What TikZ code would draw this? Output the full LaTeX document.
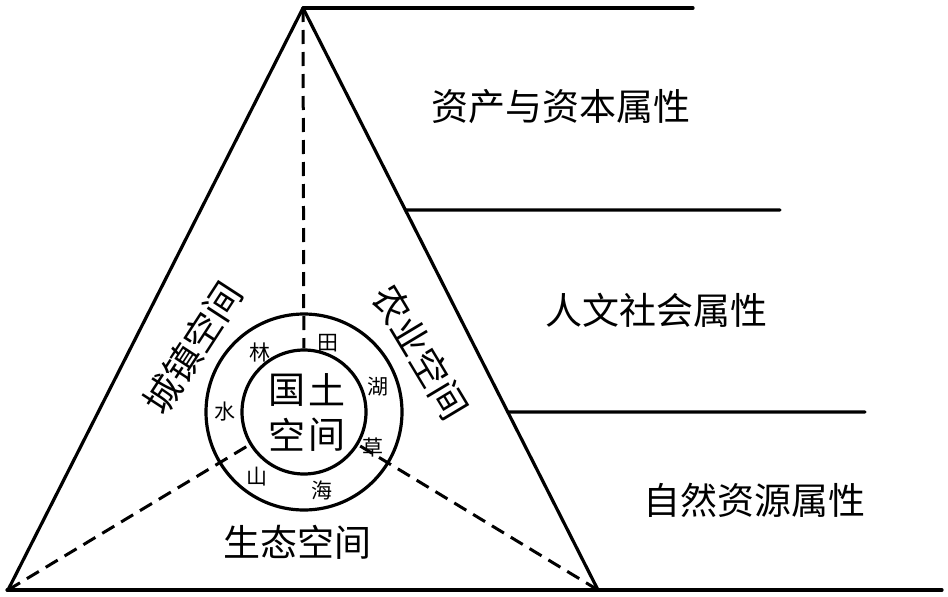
\documentclass[tikz,border=0pt]{standalone}
\usepackage{fontspec}
\setmainfont{Noto Sans CJK SC}
\usetikzlibrary{calc}
\tikzset{
  edge/.style={line width=3.2pt, line cap=round, line join=round},
  dline/.style={line width=3pt, dash pattern=on 14pt off 8pt},
  ring/.style={circle, draw, line width=3.2pt, inner sep=0pt},
  big/.style={inner sep=0pt, font=\fontsize{37}{40}\selectfont},
  small/.style={inner sep=0pt, font=\fontsize{21}{24}\selectfont},
  core/.style={inner sep=0pt, font=\fontsize{37}{40}\selectfont},
}
\begin{document}
\begin{tikzpicture}[x=1pt,y=-1pt]
\useasboundingbox (0,0) rectangle (948,597);
\coordinate (A) at (303,8);
\coordinate (BL) at (8,590);
\coordinate (BR) at (598,590);
\coordinate (O) at (304,412);
\coordinate (L0) at (7,590);
\coordinate (L0e) at (942,590);
\coordinate (T1e) at (693,8);
\coordinate (M1) at ($(A)!0.347!(BR)$);
\coordinate (M1e) at (780,210);
\coordinate (M2) at ($(A)!0.694!(BR)$);
\coordinate (M2e) at (865,412);

\node[ring, minimum size=196pt] (outer) at (O) {};
\node[ring, minimum size=124pt] (inner) at (O) {};

\draw[edge] (BL) -- (A) -- (BR);
\draw[edge] (L0) -- (L0e);
\draw[edge] (A) -- (T1e);
\draw[edge] (M1) -- (M1e);
\draw[edge] (M2) -- (M2e);

\draw[dline] (A) -- (inner);
\draw[dline] (BL) -- (inner);
\draw[dline] (BR) -- (inner);

\node[core] (g1) at (287,390) {国};
\node[core] (g2) at (327,390) {土};
\node[core] (g3) at (287,435) {空};
\node[core] (g4) at (327,435) {间};

\node[small] (lin) at (260,352) {林};
\node[small] (tian) at (328,343) {田};
\node[small] (hu) at (378,387) {湖};
\node[small] (cao) at (373,447) {草};
\node[small] (hai) at (322,490) {海};
\node[small] (shan) at (257,477) {山};
\node[small] (shui) at (225,412) {水};

\node[big, rotate=57] (cz) at (193,348) {城镇空间};
\node[big, rotate=-59] (ny) at (421,352) {农业空间};
\node[big] (st) at (297,542) {生态空间};

\node[big] (p1) at (561,107) {资产与资本属性};
\node[big] (p2) at (656,310) {人文社会属性};
\node[big] (p3) at (754,500) {自然资源属性};
\end{tikzpicture}
\end{document}
